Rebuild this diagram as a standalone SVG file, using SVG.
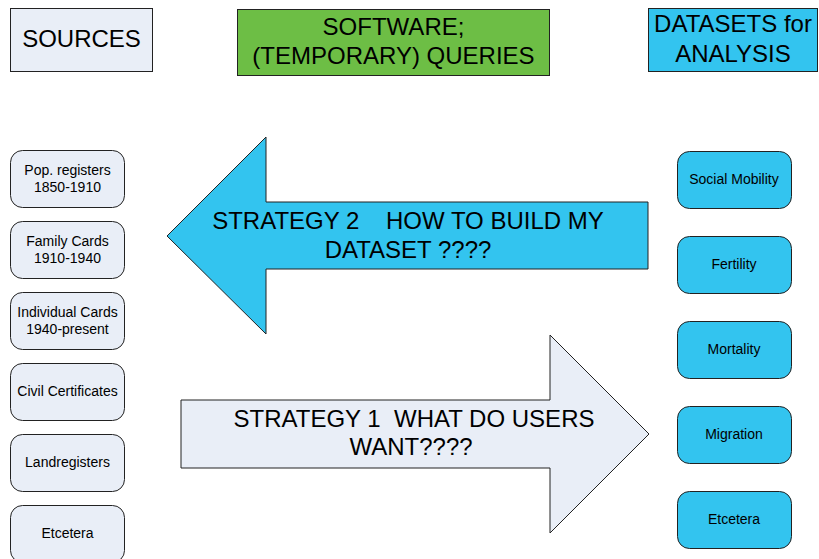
<svg xmlns="http://www.w3.org/2000/svg" width="819" height="559" viewBox="0 0 819 559">
<style>
text{font-family:"Liberation Sans",Arial,sans-serif;fill:#000;text-anchor:middle;white-space:pre}
.big{font-size:24px}
.sm{font-size:14px}
.hdr{stroke:#222;stroke-width:1}
.src{fill:#E9EEF7;stroke:#222;stroke-width:1}
.ds{fill:#33C4EF;stroke:#222;stroke-width:1}
.arr{stroke:#222;stroke-width:1}
</style>
<rect width="819" height="559" fill="#fff"/>
<g id="sources-header">
<rect class="hdr" x="10.5" y="8.5" width="142" height="63" fill="#E9EEF7"/>
<text class="big" x="81.5" y="47">SOURCES</text>
</g>
<g id="software-header">
<rect class="hdr" x="237.5" y="9.5" width="312" height="66" fill="#6DBE45"/>
<text class="big" x="393.5" y="35">SOFTWARE;</text>
<text class="big" x="393.5" y="64">(TEMPORARY) QUERIES</text>
</g>
<g id="datasets-header">
<rect class="hdr" x="648.5" y="8.5" width="169" height="63" fill="#33C4EF"/>
<text class="big" x="733" y="32">DATASETS for</text>
<text class="big" x="733" y="62">ANALYSIS</text>
</g>
<g id="connectors">
<g id="strategy2">
<path class="arr" fill="#33C4EF" d="M167,236 L266,137 L266,202 L648,202 L648,269 L266,269 L266,334 Z"/>
<text class="big" x="408" y="229">STRATEGY 2    HOW TO BUILD MY</text>
<text class="big" x="408" y="258">DATASET ????</text>
</g>
<g id="strategy1">
<path class="arr" fill="#E9EEF7" d="M181,400 L550,400 L550,335 L649,434 L550,533 L550,468 L181,468 Z"/>
<text class="big" x="414" y="427">STRATEGY 1  WHAT DO USERS</text>
<text class="big" x="411" y="455">WANT????</text>
</g>
</g>
<g id="src-pop">
<rect class="src" x="10.5" y="150.5" width="114" height="57" rx="12"/>
<text class="sm" x="67.5" y="175">Pop. registers</text>
<text class="sm" x="67.5" y="192">1850-1910</text>
</g>
<g id="src-family">
<rect class="src" x="10.5" y="221.5" width="114" height="57" rx="12"/>
<text class="sm" x="67.5" y="246">Family Cards</text>
<text class="sm" x="67.5" y="263">1910-1940</text>
</g>
<g id="src-individual">
<rect class="src" x="10.5" y="292.5" width="114" height="57" rx="12"/>
<text class="sm" x="67.5" y="317">Individual Cards</text>
<text class="sm" x="67.5" y="334">1940-present</text>
</g>
<g id="src-civil">
<rect class="src" x="10.5" y="363.5" width="114" height="57" rx="12"/>
<text class="sm" x="67.5" y="396">Civil Certificates</text>
</g>
<g id="src-land">
<rect class="src" x="10.5" y="434.5" width="114" height="57" rx="12"/>
<text class="sm" x="67.5" y="467">Landregisters</text>
</g>
<g id="src-etc">
<rect class="src" x="10.5" y="505.5" width="114" height="57" rx="12"/>
<text class="sm" x="67.5" y="538">Etcetera</text>
</g>
<g id="ds-social">
<rect class="ds" x="677.5" y="151.5" width="114" height="57" rx="12"/>
<text class="sm" x="734" y="184">Social Mobility</text>
</g>
<g id="ds-fertility">
<rect class="ds" x="677.5" y="236.5" width="114" height="57" rx="12"/>
<text class="sm" x="734" y="269">Fertility</text>
</g>
<g id="ds-mortality">
<rect class="ds" x="677.5" y="321.5" width="114" height="57" rx="12"/>
<text class="sm" x="734" y="354">Mortality</text>
</g>
<g id="ds-migration">
<rect class="ds" x="677.5" y="406.5" width="114" height="57" rx="12"/>
<text class="sm" x="734" y="439">Migration</text>
</g>
<g id="ds-etc">
<rect class="ds" x="677.5" y="491.5" width="114" height="57" rx="12"/>
<text class="sm" x="734" y="524">Etcetera</text>
</g>
</svg>
